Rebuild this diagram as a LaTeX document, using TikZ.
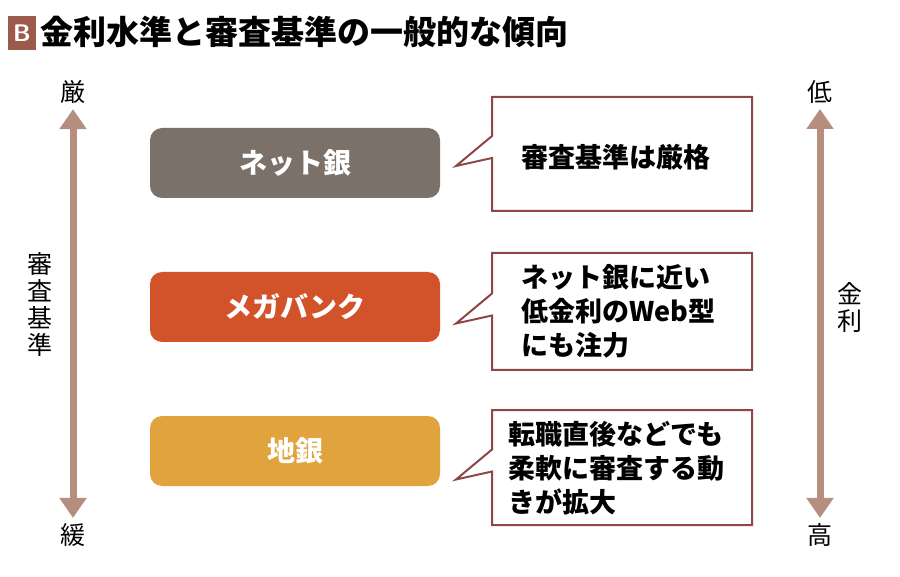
\documentclass[tikz,border=0pt]{standalone}
\usepackage{fontspec}
\newfontfamily\cjk{Noto Sans CJK JP}
\usetikzlibrary{arrows.meta, positioning}
\definecolor{netgray}{HTML}{7B7168}
\definecolor{megaorange}{HTML}{D2522A}
\definecolor{chigold}{HTML}{E1A33D}
\definecolor{callred}{HTML}{8E4646}
\definecolor{arrowtan}{HTML}{B58E80}
\definecolor{titlebrown}{HTML}{9C5A4A}
\begin{document}
\begin{tikzpicture}[x=1pt,y=-1pt,font=\cjk,
  bank/.style={rounded corners=12pt,minimum width=290pt,minimum height=70pt,text=white,font=\cjk\bfseries\fontsize{28}{32}\selectfont},
  callout/.style={draw=callred,line width=2pt,fill=white},
  calltext/.style={font=\cjk\bfseries\fontsize{27}{34}\selectfont,align=left},
  scalearrow/.style={arrowtan,line width=7pt,{Triangle[length=20pt,width=26pt]}-{Triangle[length=20pt,width=26pt]}},
  side/.style={font=\cjk\fontsize{25}{30}\selectfont}]
\useasboundingbox (0,0) rectangle (900,577);
% title
\node[fill=titlebrown,text=white,font=\sffamily\bfseries\fontsize{24}{26}\selectfont,minimum width=28pt,minimum height=34pt,inner sep=0pt] (tB) at (22,33) {B};
\node[anchor=west,font=\cjk\bfseries\fontsize{33}{36}\selectfont,inner sep=0pt] (title) at (40,32) {金利水準と審査基準の一般的な傾向};
% left scale
\node[side] (strict) at (73,92) {厳};
\node[side] (loose) at (73,535) {緩};
\draw[scalearrow] ([yshift=-2pt]strict.south) -- ([yshift=2pt]loose.north);
\node[side,align=center,text width=28pt] (shinsa) at (40,305) {審\\[-3pt]査\\[-3pt]基\\[-3pt]準};
% right scale
\node[side] (low) at (820,92) {低};
\node[side] (high) at (820,535) {高};
\draw[scalearrow] ([yshift=-2pt]low.south) -- ([yshift=2pt]high.north);
\node[side,align=center,text width=28pt] (kinri) at (850,308) {金\\[-3pt]利};
% banks
\node[bank,fill=netgray] (net) at (295,163) {ネット銀};
\node[bank,fill=megaorange] (mega) at (295,307) {メガバンク};
\node[bank,fill=chigold] (chigin) at (295,451) {地銀};
% callouts
\foreach \y/\t in {97/211,253/370,410/525}{
  \draw[callout,line join=miter] (492,\y) -- (752,\y) -- (752,\t) -- (492,\t)
    -- (492,{(\y+\t)/2+4}) -- (456,{(\y+\t)/2+12}) -- (492,{(\y+\t)/2-18}) -- cycle;
}
\node[calltext,anchor=west] (t1) at (518,157) {審査基準は厳格};
\node[calltext,anchor=west] (t2) at (518,311) {ネット銀に近い\\低金利のWeb型\\にも注力};
\node[calltext,anchor=west] (t3) at (505,468) {転職直後などでも\\柔軟に審査する動\\きが拡大};
\end{tikzpicture}
\end{document}
